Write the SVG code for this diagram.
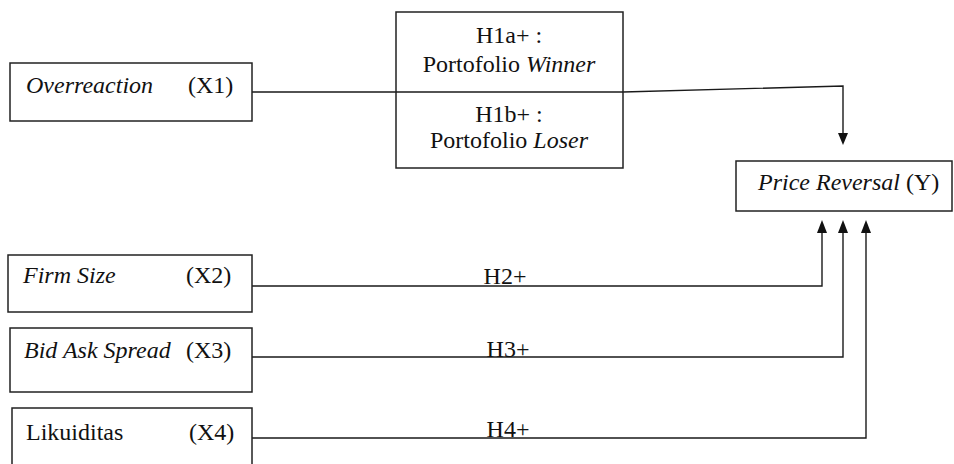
<svg xmlns="http://www.w3.org/2000/svg" width="954" height="464" viewBox="0 0 954 464">
  <style>
    .box { fill: #ffffff; stroke: #222222; stroke-width: 1.5; }
    .line { fill: none; stroke: #1a1a1a; stroke-width: 1.4; }
    .head { fill: #111111; }
    .t { font-family: 'Liberation Serif', 'DejaVu Serif', serif; font-size: 24px; fill: #111111; }
    .it { font-style: italic; }
    .mid { text-anchor: middle; }
  </style>

  <!-- connectors: lines, arrowheads and path labels -->
  <g id="connectors">
    <polyline class="line" points="252,92 623,92 843,86 843,134"/>
    <polyline class="line" points="252,286 822,286 822,232"/>
    <polyline class="line" points="252,357 843,357 843,232"/>
    <polyline class="line" points="252,438 866,438 866,232"/>
    <path class="head" d="M838,133 L848,133 L843,145 Z"/>
    <path class="head" d="M817,233 L827,233 L822,220 Z"/>
    <path class="head" d="M838,233 L848,233 L843,220 Z"/>
    <path class="head" d="M861,233 L871,233 L866,220 Z"/>
    <text x="505" y="284" class="t mid">H2+</text>
    <text x="508" y="357" class="t mid">H3+</text>
    <text x="508" y="437" class="t mid">H4+</text>
  </g>

  <g id="x1">
    <rect class="box" x="10" y="63" width="242" height="58"/>
    <text x="26" y="93" class="t it">Overreaction</text>
    <text x="188" y="93" class="t">(X1)</text>
  </g>

  <g id="h1">
    <rect class="box" x="396" y="12" width="227" height="156"/>
    <line class="line" x1="396" y1="92" x2="623" y2="92"/>
    <text x="509" y="43" class="t mid">H1a+ :</text>
    <text x="509" y="72" class="t mid">Portofolio <tspan class="it">Winner</tspan></text>
    <text x="509" y="122" class="t mid">H1b+ :</text>
    <text x="509" y="148" class="t mid">Portofolio <tspan class="it">Loser</tspan></text>
  </g>

  <g id="y">
    <rect class="box" x="736" y="161" width="216" height="50"/>
    <text x="758" y="190" class="t"><tspan class="it">Price Reversal</tspan> (Y)</text>
  </g>

  <g id="x2">
    <rect class="box" x="8" y="255" width="244" height="57"/>
    <text x="23" y="283" class="t it">Firm Size</text>
    <text x="186" y="283" class="t">(X2)</text>
  </g>

  <g id="x3">
    <rect class="box" x="10" y="328" width="242" height="64"/>
    <text x="24" y="358" class="t it">Bid Ask Spread</text>
    <text x="186" y="358" class="t">(X3)</text>
  </g>

  <g id="x4">
    <rect class="box" x="12" y="408" width="240" height="70"/>
    <text x="26" y="440" class="t">Likuiditas</text>
    <text x="189" y="440" class="t">(X4)</text>
  </g>
</svg>
